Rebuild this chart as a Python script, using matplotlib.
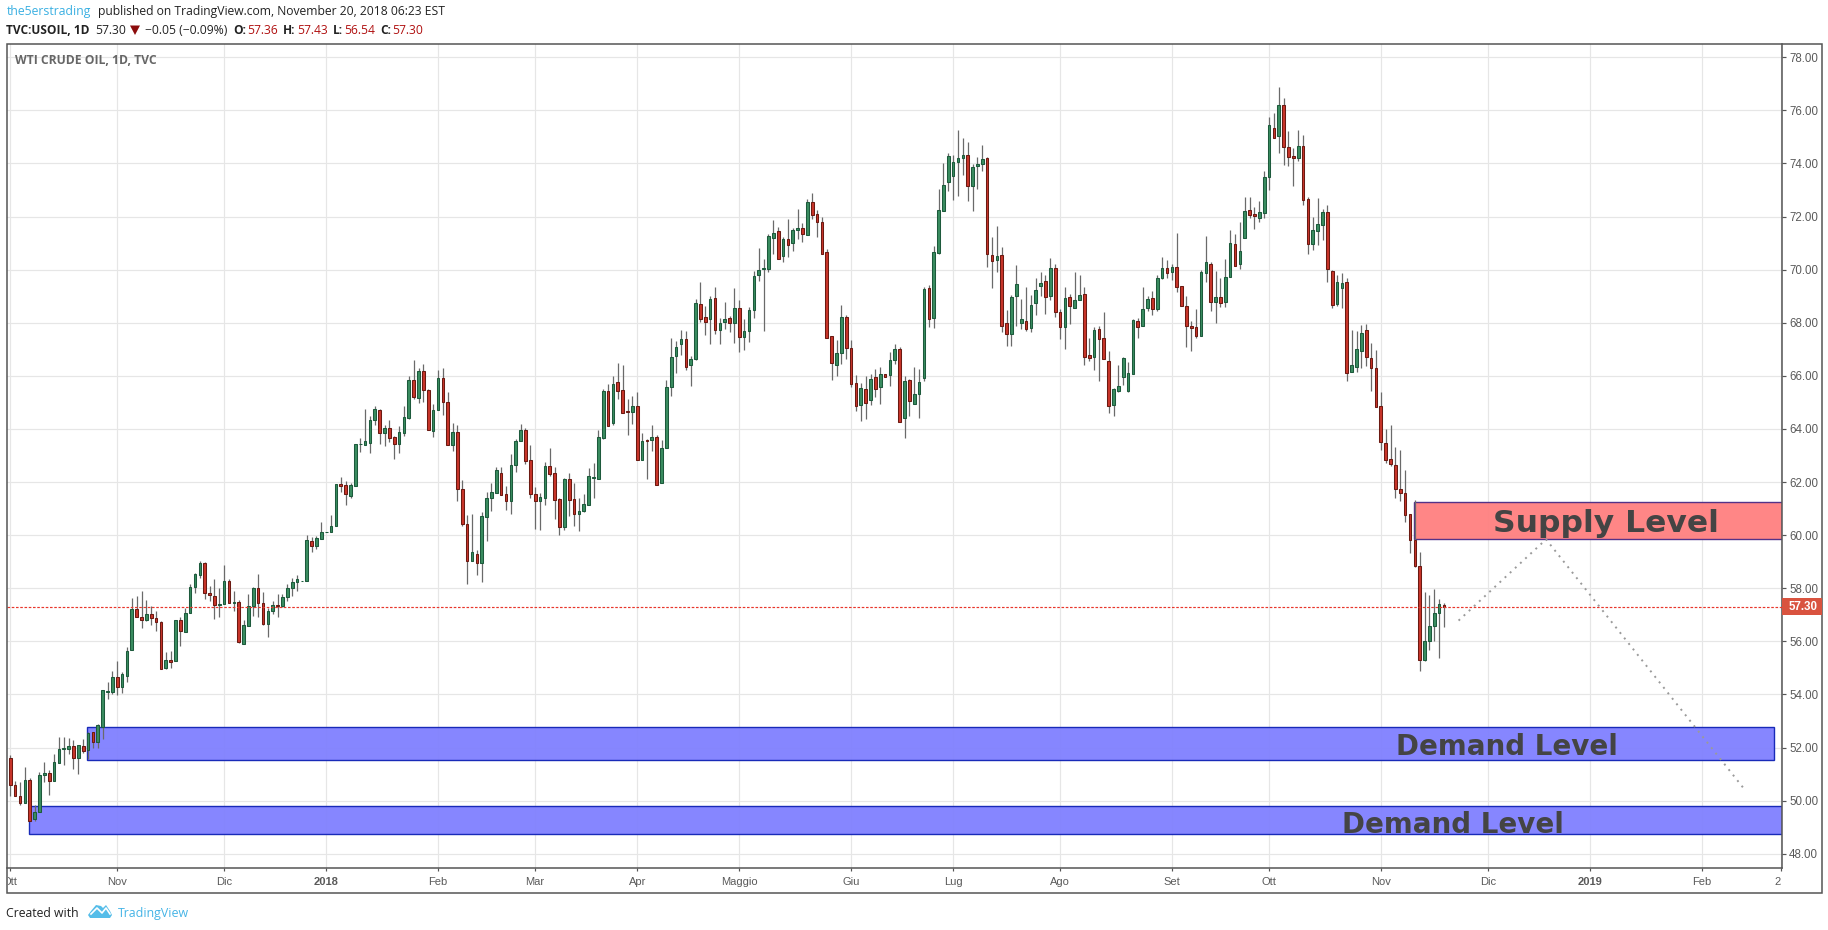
import matplotlib
matplotlib.use('Agg')
import matplotlib.pyplot as plt
from matplotlib.patches import Rectangle, Polygon
from matplotlib.transforms import Bbox
from matplotlib.lines import Line2D

W, H = 1828, 930

opens = [
    51.6,50.6,50.17,49.9,50.77,49.3,49.56,50.95,51.04,50.72,
    51.4,51.93,51.93,52.05,51.59,52.05,51.9,52.58,52.19,52.79,
    54.1,54.1,54.64,54.29,54.7,55.68,57.23,56.93,56.8,57.04,
    56.88,56.74,54.99,55.31,55.26,56.81,56.35,57.06,58.04,58.48,
    58.96,57.83,57.71,57.35,57.4,58.28,57.44,57.49,55.9,56.58,
    57.34,58.01,57.45,56.65,57.14,57.38,57.33,57.66,58.0,58.22,
    58.26,58.26,59.78,59.58,59.84,60.1,60.1,60.33,61.91,61.88,
    61.49,61.86,63.44,63.4,63.48,64.34,64.73,63.85,64.05,63.71,
    63.44,63.85,64.41,65.85,65.16,66.19,65.48,63.93,64.73,65.93,
    65.03,63.4,63.9,61.73,60.41,59.01,59.29,58.94,60.7,61.38,
    61.6,62.33,61.54,61.3,62.63,63.53,63.94,62.81,61.54,61.3,
    61.41,62.59,62.33,61.35,60.29,62.1,61.35,60.81,60.91,61.15,
    62.16,62.13,63.66,65.44,64.23,65.78,65.48,64.66,64.64,64.88,
    62.84,63.58,63.59,63.69,61.95,63.29,65.58,66.75,67.2,67.39,
    66.4,66.65,68.7,68.21,68.13,68.93,67.71,68.01,68.18,67.98,
    68.55,67.46,67.68,68.46,69.81,70.01,70.04,71.2,71.44,70.53,
    71.14,71.01,71.5,71.55,71.31,72.56,72.08,71.81,70.65,67.5,
    66.4,66.85,68.21,67.05,65.74,64.89,65.51,65.09,65.96,65.56,
    66.08,66.03,66.59,67.01,64.41,65.85,64.94,65.31,65.91,69.3,
    68.16,70.64,72.21,73.31,73.54,74.04,74.22,74.3,73.13,73.91,
    73.99,74.19,70.55,70.35,70.55,68.0,67.58,69.0,68.0,68.08,
    67.8,68.74,69.38,69.58,69.0,70.06,68.41,67.84,68.98,68.55,
    68.85,69.09,66.8,66.71,67.78,67.44,66.54,64.91,65.43,65.96,
    65.43,66.08,68.08,67.88,68.54,68.94,68.51,69.68,70.06,69.9,
    70.1,69.39,68.64,67.89,67.85,67.5,69.86,70.21,68.78,68.98,
    68.78,69.71,70.96,70.2,71.18,72.24,72.09,71.96,72.15,73.5,
    75.35,75.05,76.19,74.61,74.28,74.19,74.65,72.66,70.96,71.45,
    71.68,72.18,69.96,68.7,69.29,69.55,66.16,66.35,66.95,67.71,
    66.66,66.29,64.86,63.48,62.88,62.65,61.75,61.6,60.78,59.8,
    58.85,55.29,56.01,56.58,57.06,57.36,
]
highs = [
    51.7,50.74,50.7,51.27,50.85,49.85,51.07,51.45,51.15,51.75,
    52.4,52.38,52.36,52.3,52.09,52.33,52.6,52.58,52.88,54.18,
    54.46,54.88,55.25,54.83,55.78,57.63,57.69,57.91,57.54,57.34,
    57.16,56.78,55.58,55.63,56.81,56.93,57.24,58.14,58.59,59.03,
    58.98,58.1,58.33,57.99,58.89,58.35,57.91,57.56,56.79,57.8,
    58.05,58.55,57.84,57.25,57.5,57.8,57.79,58.14,58.39,58.51,
    58.29,60.01,59.93,59.95,60.5,60.11,60.74,61.91,62.19,62.04,
    61.95,63.45,63.65,64.74,64.48,64.85,64.76,64.14,64.33,63.75,
    64.1,64.85,66.01,66.61,66.3,66.43,65.5,64.93,66.2,66.28,
    65.38,64.24,64.14,62.08,60.76,60.8,59.45,60.86,61.63,61.95,
    62.58,62.58,61.85,63.05,63.63,64.2,64.05,63.39,61.81,61.59,
    62.75,63.28,62.56,61.39,62.15,62.34,61.96,61.38,61.55,62.53,
    62.7,63.95,65.51,65.68,65.98,66.5,66.39,65.11,65.23,65.38,
    63.84,63.63,64.14,63.78,63.59,65.86,67.44,67.31,67.74,67.69,
    66.75,68.89,69.54,68.64,69.01,69.35,68.19,68.79,68.25,69.31,
    68.86,68.15,68.59,69.95,70.81,70.4,71.34,71.86,71.6,71.23,
    71.9,71.55,72.28,71.75,72.66,72.88,72.24,71.98,70.76,67.5,
    67.36,68.68,68.3,67.36,66.04,65.74,65.98,66.08,66.24,66.35,
    66.08,66.88,67.18,67.1,65.98,65.89,66.35,66.24,69.35,69.43,
    70.89,73.03,74.0,74.41,74.31,75.25,74.94,74.79,73.96,74.24,
    74.69,74.24,71.24,71.65,70.86,68.46,69.06,70.19,68.91,69.33,
    69.06,69.7,69.91,69.78,70.44,70.21,68.5,69.36,69.09,69.91,
    69.81,69.36,67.41,67.85,67.86,68.39,66.93,65.53,66.4,66.7,
    66.51,68.14,68.16,69.33,68.99,69.2,69.78,70.49,70.38,70.2,
    71.39,69.39,69.01,68.08,68.53,70.0,71.28,70.3,69.93,69.7,
    70.41,71.49,71.35,71.8,72.74,72.74,72.35,72.58,73.71,75.73,
    75.89,76.88,76.46,75.23,74.58,75.26,75.08,72.75,72.0,72.71,
    72.29,72.45,70.0,69.79,69.86,69.68,67.73,67.69,67.91,67.95,
    67.25,66.98,65.4,63.98,64.16,63.33,63.19,62.44,60.78,61.31,
    59.35,57.85,57.74,57.98,57.6,57.43,
]
lows = [
    50.16,50.16,49.85,49.9,49.22,49.22,49.56,50.7,50.22,50.72,
    51.4,51.33,51.76,51.18,50.99,51.78,51.58,51.99,52.0,52.33,
    53.83,54.01,53.99,54.06,54.46,55.68,56.91,56.49,56.75,56.6,
    56.38,54.96,54.95,54.99,55.26,55.81,56.35,57.06,57.83,58.4,
    57.61,57.51,56.83,56.9,57.4,57.44,57.14,55.94,55.9,56.58,
    56.96,56.9,56.61,56.16,57.01,56.9,57.29,57.5,57.69,57.91,
    58.26,58.26,59.38,59.49,59.84,60.1,60.1,60.33,61.63,61.14,
    61.38,61.86,63.13,63.4,63.1,64.15,63.43,63.35,63.5,62.88,
    63.1,63.73,64.38,65.11,64.96,65.0,63.96,63.69,64.73,64.53,
    63.4,63.16,61.29,60.33,58.14,59.01,58.48,58.25,59.79,60.91,
    61.6,61.51,60.95,60.8,62.38,63.53,62.69,61.41,60.24,60.2,
    61.15,62.24,60.61,60.01,60.2,60.73,60.33,60.16,60.86,61.15,
    61.4,62.13,63.63,64.11,64.16,65.11,64.6,63.76,64.19,62.84,
    62.84,62.13,63.16,61.87,61.95,63.29,65.23,66.09,66.78,66.2,
    65.6,66.61,68.04,67.55,67.21,67.59,67.18,67.78,67.64,67.25,
    66.91,66.99,67.29,68.19,69.58,67.7,69.91,70.59,70.41,70.29,
    70.48,70.7,71.15,71.04,71.31,71.9,71.23,70.6,67.41,65.86,
    65.98,66.43,66.65,65.56,64.66,64.29,64.36,64.89,65.21,64.93,
    65.95,65.6,66.43,64.26,63.65,64.48,64.94,64.4,65.81,67.85,
    67.81,70.59,72.21,72.96,72.64,72.79,73.58,72.6,72.19,73.05,
    73.71,70.09,69.29,69.9,67.65,67.11,67.11,67.86,67.76,67.69,
    67.64,68.29,69.0,68.33,68.85,68.21,67.38,67.0,67.94,68.55,
    68.85,66.4,66.56,66.22,65.81,66.64,64.61,64.5,65.39,65.64,
    65.39,66.08,67.41,67.88,68.43,68.29,68.43,69.64,69.7,69.59,
    69.15,68.64,67.09,66.94,67.43,67.5,69.55,68.43,68.0,68.59,
    68.59,69.71,70.13,70.04,71.18,71.96,71.54,71.78,71.93,73.01,
    74.96,74.38,73.95,73.91,73.13,74.08,72.45,70.58,70.73,70.91,
    71.1,69.53,68.55,68.63,68.55,65.81,66.13,66.13,66.28,66.38,
    65.41,64.81,63.19,62.7,62.59,61.39,61.28,60.49,59.33,58.78,
    54.88,55.24,55.69,56.0,55.36,56.54,
]
closes = [
    50.57,50.17,49.9,50.77,49.22,49.57,50.96,51.04,50.75,51.45,
    51.94,51.98,52.05,51.59,52.09,51.85,52.54,52.19,52.84,54.15,
    54.11,54.64,54.29,54.75,55.65,57.23,56.91,56.8,57.04,56.88,
    56.73,54.96,55.31,55.23,56.81,56.39,57.08,58.05,58.54,58.96,
    57.81,57.73,57.35,57.41,58.28,57.44,57.49,55.98,56.63,57.33,
    58.01,57.44,56.65,57.15,57.38,57.33,57.67,58.01,58.24,58.35,
    58.29,59.81,59.58,59.89,60.11,60.11,60.34,61.91,61.86,61.56,
    61.88,63.45,63.45,63.53,64.35,64.76,63.85,64.05,63.66,63.44,
    63.9,64.43,65.85,65.2,66.19,65.46,63.96,64.73,65.93,65.01,
    63.4,63.9,61.75,60.4,59.01,59.36,58.94,60.71,61.39,61.61,
    62.44,61.51,61.3,62.63,63.53,63.94,62.8,61.53,61.3,61.43,
    62.59,62.31,61.34,60.29,62.1,61.34,60.81,60.9,61.16,62.21,
    62.19,63.71,65.44,64.11,65.7,65.43,64.6,64.64,64.88,62.84,
    63.53,63.53,63.71,61.9,63.28,65.59,66.71,67.09,67.39,66.33,
    66.64,68.74,68.13,68.01,68.89,67.71,67.99,68.14,67.99,68.55,
    67.45,67.69,68.48,69.75,69.98,70.05,71.25,71.36,70.41,71.14,
    70.94,71.51,71.55,71.35,72.53,72.06,71.8,70.6,67.41,66.48,
    66.86,68.21,67.04,65.69,64.86,65.55,64.98,65.89,65.5,66.08,
    65.95,66.6,67.01,64.26,65.81,65.05,65.33,65.78,69.26,68.13,
    70.65,72.23,73.18,74.26,74.04,74.19,74.3,73.13,73.85,73.96,
    74.15,70.58,70.31,70.51,67.88,67.58,68.98,69.46,68.15,67.76,
    68.68,69.24,69.5,68.96,70.06,68.4,67.84,68.94,68.63,68.86,
    69.05,66.71,66.68,67.74,67.39,66.64,64.88,65.49,65.6,66.66,
    66.09,68.11,67.84,68.53,68.9,68.51,69.69,70.06,69.86,70.1,
    69.34,68.64,67.88,67.8,67.5,69.91,70.29,68.78,68.98,68.74,
    69.74,71.0,70.13,70.7,72.2,72.04,72.01,72.16,73.48,75.43,
    74.96,76.19,74.6,74.23,74.19,74.65,72.61,70.96,71.5,71.73,
    72.18,70.03,68.68,69.55,69.51,66.09,66.4,67.0,67.6,66.69,
    66.31,64.81,63.5,62.83,62.68,61.74,61.59,60.76,59.83,58.85,
    55.29,56.01,56.58,57.06,57.39,57.30,
]

# bar number of each month tick
month_ticks = [0, 22, 44, 65, 88, 108, 129, 150, 173, 194, 216, 239, 259, 282, 304, 325, 348, 364.3]
month_labels = ['Ott', 'Nov', 'Dic', '2018', 'Feb', 'Mar', 'Apr', 'Maggio', 'Giu', 'Lug',
                'Ago', 'Set', 'Ott', 'Nov', 'Dic', '2019', 'Feb', '25']
price_ticks = list(range(48, 80, 2))
last_price = 57.30

# zones: start bar, end bar, low, high
supply_zone = (288.9, 364.6, 59.84, 61.24)
demand_upper = (15.84, 362.97, 51.52, 52.78)
demand_lower = (3.91, 364.6, 48.74, 49.78)
# projected path
path_bars = [298.0, 316.0, 356.8]
path_prices = [56.78, 59.84, 50.43]

fig = plt.figure(figsize=(W / 100, H / 100), dpi=100, facecolor='white')


def fig_xy(x, y):
    return x / W, 1 - y / H


def ftext(x, y, s, **kw):
    fx, fy = fig_xy(x, y)
    kw.setdefault('va', 'center')
    kw.setdefault('family', 'Open Sans')
    return fig.text(fx, fy, s, **kw)


left, right, top, bottom = 6.5, 1782, 44, 868
ax = fig.add_axes([left / W, 1 - bottom / H, (right - left) / W, (bottom - top) / H])
ax.set_xlim((left - 10.3) / 4.86, (right - 10.3) / 4.86)
ax.set_ylim(48 - (bottom - 853.7) / 26.55, 48 + (853.7 - top) / 26.55)

ax.set_axisbelow(True)
ax.grid(True, color='#e6e6e6', lw=0.85)

for bar0, bar1, lo, hi, face, edge in [
    (*supply_zone, '#ff8080', '#4b2a85'),
    (*demand_upper, '#8080ff', '#0f22b4'),
    (*demand_lower, '#8080ff', '#0f22b4'),
]:
    ax.add_patch(Rectangle((bar0, lo), bar1 - bar0, hi - lo, facecolor=face, edgecolor=edge,
                           lw=1.0, alpha=0.95, zorder=1.5))

bars = list(range(len(closes)))
ax.vlines(bars, lows, highs, color='#6a6a6a', lw=0.9, zorder=2)
up = [c >= o for o, c in zip(opens, closes)]
body_low = [min(o, c) for o, c in zip(opens, closes)]
body_size = [abs(o - c) for o, c in zip(opens, closes)]
ax.bar(bars, body_size, bottom=body_low, width=0.55, zorder=3, lw=0.75,
       color=['#3a8c60' if u else '#c8352a' for u in up],
       edgecolor=['#1d5a3c' if u else '#6b1a12' for u in up])

ax.axhline(last_price, color='#e8372c', lw=0.85, ls=(0, (2.2, 1.4)), zorder=4)
ax.plot(path_bars, path_prices, color='#9a9a9a', lw=1.4, ls=(0, (1, 2.6)), zorder=4)

ax.text(328.3, 60.13, 'Supply Level', fontsize=22.6, fontweight='bold', color='#444444',
        ha='center', va='baseline', family='DejaVu Sans', zorder=5)
ax.text(308.0, 51.72, 'Demand Level', fontsize=20, fontweight='bold', color='#444444',
        ha='center', va='baseline', family='DejaVu Sans', zorder=5)
ax.text(296.9, 48.77, 'Demand Level', fontsize=20, fontweight='bold', color='#444444',
        ha='center', va='baseline', family='DejaVu Sans', zorder=5)

ax.set_xticks(month_ticks, month_labels)
ax.set_yticks(price_ticks, [f'{p:.2f}' for p in price_ticks])
ax.yaxis.tick_right()
ax.tick_params(axis='x', length=2.4, width=0.85, color='#555555', labelcolor='#5a5a5a', labelsize=8, pad=4.2)
ax.tick_params(axis='y', length=3.2, width=0.85, color='#555555', labelcolor='#5a5a5a', labelsize=8.3, pad=2)
for t, name in zip(ax.get_xticklabels(), month_labels):
    t.set_family('Liberation Sans')
    if name in ('2018', '2019'):
        t.set_fontweight('bold')
    t.set_clip_on(True)
    t.set_clip_box(Bbox([[7.5, 0], [1781, H]]))
for t in ax.get_yticklabels():
    t.set_family('Liberation Sans')
for s in ax.spines.values():
    s.set_color('#555555')
    s.set_linewidth(1.1)
ax.spines['top'].set_visible(False)
ax.spines['left'].set_visible(False)

# outer frame of the whole chart
fig.add_artist(Rectangle((6.5 / W, 1 - 893 / H), (1821.5 - 6.5) / W, (893 - 44) / H, fill=False,
                         edgecolor='#555555', lw=1.1, transform=fig.transFigure))

# last price tag
fig.add_artist(Rectangle((1782 / W, 1 - 615 / H), 39.5 / W, 16.7 / H, facecolor='#d9533f',
                         edgecolor='none', transform=fig.transFigure))
ftext(1789, 606.5, '57.30', family='Liberation Sans', fontsize=8.3, fontweight='bold', color='white')

# header
ftext(6.5, 11.5, 'the5erstrading', color='#3bb0e2', fontsize=8.8)
ftext(98, 11.5, 'published on TradingView.com, November 20, 2018 06:23 EST', color='#222222', fontsize=8.7)
ftext(6.5, 30, 'TVC:USOIL, 1D', color='#222222', fontsize=8.6, fontweight='bold')
ftext(95, 30, '57.30', color='#222222', fontsize=8.7)
fig.add_artist(Polygon([fig_xy(130, 25.5), fig_xy(140, 25.5), fig_xy(135, 35)], facecolor='#8c0c0c',
                       edgecolor='none', transform=fig.transFigure))
ftext(145, 30, '\u22120.05 (\u22120.09%)', color='#222222', fontsize=8.7)
for x, s in [(233, 'O:'), (283, 'H:'), (333, 'L:'), (380, 'C:')]:
    ftext(x, 30, s, color='#222222', fontsize=8.6, fontweight='bold')
for x, s in [(247, '57.36'), (297, '57.43'), (344, '56.54'), (392, '57.30')]:
    ftext(x, 30, s, color='#b01010', fontsize=8.7)
ftext(15, 60, 'WTI CRUDE OIL, 1D, TVC', color='#666666', fontsize=8.7, fontweight='bold')

# footer
ftext(6.5, 913, 'Created with', color='#222222', fontsize=8.8)
ftext(118, 913, 'TradingView', color='#45b4e6', fontsize=8.9)
fig.add_artist(Polygon([fig_xy(x, y) for x, y in [(88, 915), (91, 911), (96, 905), (101, 906), (103, 908), (106, 905),
                                                  (110, 911), (112, 915), (110, 918), (90, 918)]],
                       facecolor='#55bde9', edgecolor='none', transform=fig.transFigure))
zigzag = [fig_xy(x, y) for x, y in [(91, 914), (97, 908), (102, 913), (106, 908), (110, 914)]]
fig.add_artist(Line2D([p[0] for p in zigzag], [p[1] for p in zigzag], color='white', lw=1.2,
                      transform=fig.transFigure))

fig.savefig('out.png', dpi=100, facecolor='white')
